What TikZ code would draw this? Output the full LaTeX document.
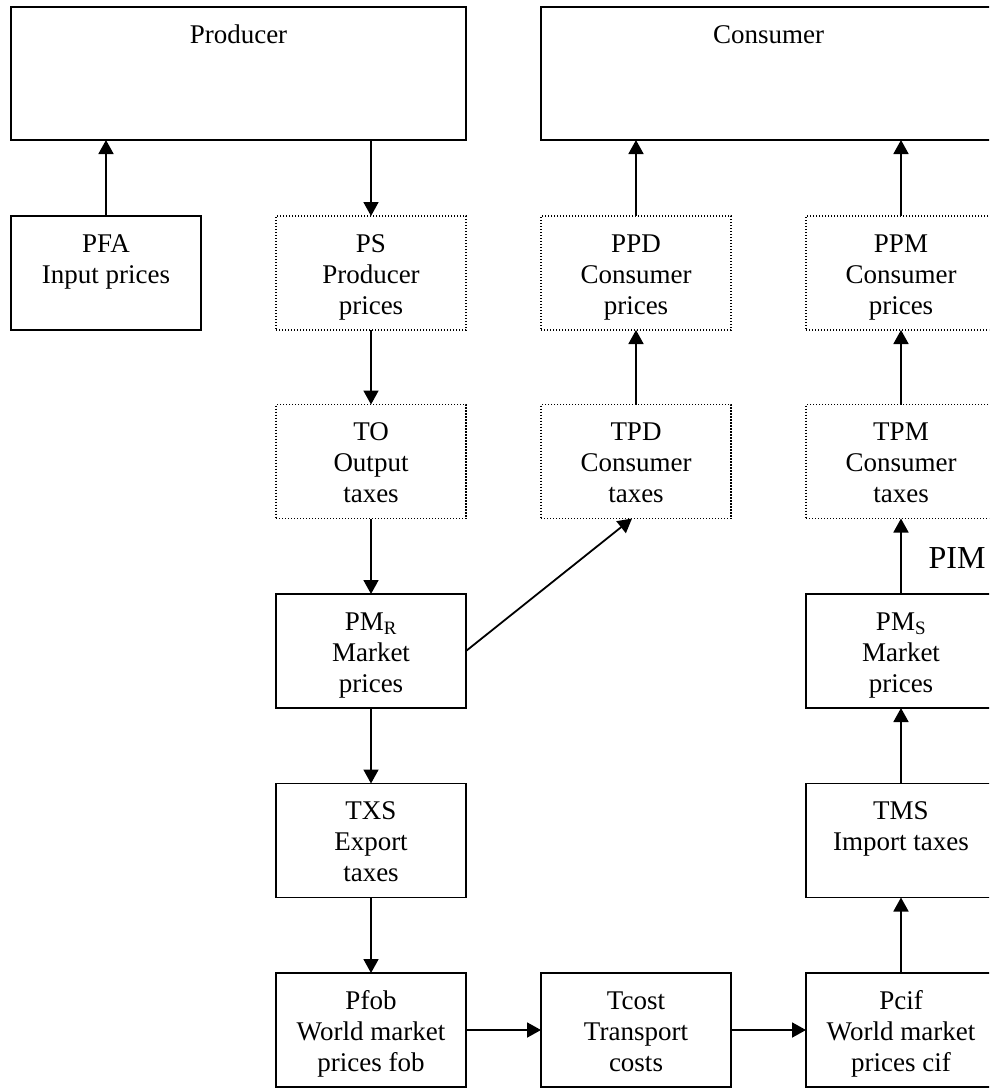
\documentclass[tikz,border=0pt]{standalone}
\usepackage{fontspec}
\setmainfont{Liberation Serif}
\usetikzlibrary{arrows.meta}
\tikzset{
  box/.style={draw, line width=1.8pt, minimum width=190pt, minimum height=114pt, inner sep=0pt, outer sep=0pt},
  bigbox/.style={box, minimum width=455pt, minimum height=133pt},
  dotbox/.style={box, line width=1.3pt, dash pattern=on 1.3pt off 1.7pt},
  txt/.style={anchor=north, align=center, inner sep=0pt, font=\fontsize{27}{31}\selectfont},
  conn/.style={line width=1.8pt, -{Triangle[length=14pt,width=15pt]}},
}
\newcommand{\boxlabel}[2]{\node[txt] (#1t) at ([yshift=-14.5pt]#1.north) {\strut #2};}
\begin{document}
\begin{tikzpicture}[x=1pt,y=1pt]
\clip (0,0) rectangle (989,-1088);
\fill[white] (0,0) rectangle (989,-1088);
% row 0
\node[bigbox] (prod) at (238.5,-73.5) {};
\node[bigbox] (cons) at (768.5,-73.5) {};
\boxlabel{prod}{Producer}
\boxlabel{cons}{Consumer}
% row 1
\node[box] (pfa) at (106,-273) {};
\node[dotbox] (ps) at (371,-273) {};
\node[dotbox] (ppd) at (636,-273) {};
\node[dotbox] (ppm) at (901,-273) {};
\boxlabel{pfa}{PFA\\Input prices}
\boxlabel{ps}{PS\\Producer\\prices}
\boxlabel{ppd}{PPD\\Consumer\\prices}
\boxlabel{ppm}{PPM\\Consumer\\prices}
% row 2
\node[dotbox] (to) at (371,-461.5) {};
\node[dotbox] (tpd) at (636,-461.5) {};
\node[dotbox] (tpm) at (901,-461.5) {};
\boxlabel{to}{TO\\Output\\taxes}
\boxlabel{tpd}{TPD\\Consumer\\taxes}
\boxlabel{tpm}{TPM\\Consumer\\taxes}
% row 3
\node[box] (pmr) at (371,-651) {};
\node[box] (pms) at (901,-651) {};
\boxlabel{pmr}{PM\textsubscript{R}\\Market\\prices}
\boxlabel{pms}{PM\textsubscript{S}\\Market\\prices}
% row 4
\node[box] (txs) at (371,-840.5) {};
\node[box] (tms) at (901,-840.5) {};
\boxlabel{txs}{TXS\\Export\\taxes}
\boxlabel{tms}{TMS\\Import taxes}
% row 5
\node[box] (pfob) at (371,-1030) {};
\node[box] (tcost) at (636,-1030) {};
\node[box] (pcif) at (901,-1030) {};
\boxlabel{pfob}{Pfob\\World market\\prices fob}
\boxlabel{tcost}{Tcost\\Transport\\costs}
\boxlabel{pcif}{Pcif\\World market\\prices cif}
% PIM label
\node[anchor=base, inner sep=0pt, font=\fontsize{32}{36}\selectfont] (pim) at (957,-568) {PIM};
% connectors
\draw[conn] (pfa.north) -- (pfa.north |- prod.south);
\draw[conn] (prod.south -| ps.north) -- (ps.north);
\draw[conn] (ps.south) -- (to.north);
\draw[conn] (to.south) -- (pmr.north);
\draw[conn] (pmr.south) -- (txs.north);
\draw[conn] (txs.south) -- (pfob.north);
\draw[conn] (pfob.east) -- (tcost.west);
\draw[conn] (tcost.east) -- (pcif.west);
\draw[conn] (pcif.north) -- (tms.south);
\draw[conn] (tms.north) -- (pms.south);
\draw[conn] (pms.north) -- (tpm.south);
\draw[conn] (tpm.north) -- (ppm.south);
\draw[conn] (ppm.north) -- (ppm.north |- cons.south);
\draw[conn] (tpd.north) -- (ppd.south);
\draw[conn] (ppd.north) -- (ppd.north |- cons.south);
\draw[conn] (pmr.east) -- ([xshift=-4pt]tpd.south);
\end{tikzpicture}
\end{document}
